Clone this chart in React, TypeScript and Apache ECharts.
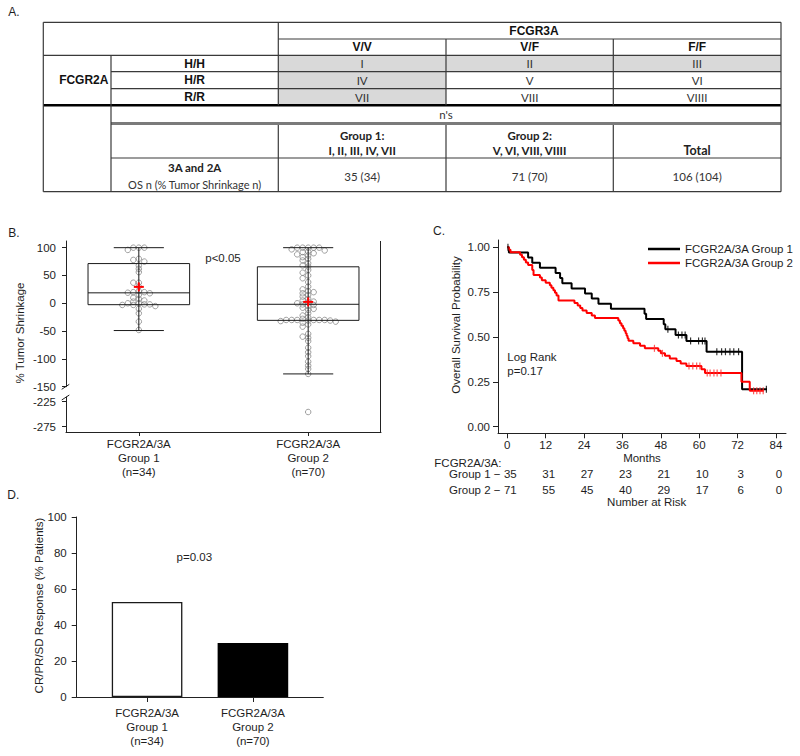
import React, { useEffect, useRef } from 'react';
import * as echarts from 'echarts';

// ===================== Panel A: genotype table =====================
const fcgr3aTitle = 'FCGR3A';
const fcgr2aTitle = 'FCGR2A';
const fcgr3aGenotypes = ['V/V', 'V/F', 'F/F'];
const fcgr2aGenotypes = ['H/H', 'H/R', 'R/R'];
const genotypeCells = [
  ['I', 'II', 'III'],
  ['IV', 'V', 'VI'],
  ['VII', 'VIII', 'VIIII'],
];
const isGroup1Cell = [
  [true, true, true],
  [true, false, false],
  [true, false, false],
];
const nsTitle = "n's";
const groupHeadLine1 = ['Group 1:', 'Group 2:', ''];
const groupHeadLine2 = ['I, II, III, IV, VII', 'V, VI, VIII, VIIII', 'Total'];
const countsRowTitle = '3A and 2A';
const countsRowSubtitle = 'OS n (% Tumor Shrinkage n)';
const countsValues = ['35 (34)', '71 (70)', '106 (104)'];
const panelLetters = ['A.', 'B.', 'C.', 'D.'];

// ===================== Panel B: tumor shrinkage =====================
const boxGroups = [1, 2];
const boxCategoryLabels = ['FCGR2A/3A\nGroup 1\n(n=34)', 'FCGR2A/3A\nGroup 2\n(n=70)'];
const boxMin = [-49, -127];
const boxQ1 = [-2.5, -30.7];
const boxMedian = [18.8, -1.8];
const boxQ3 = [71.4, 65.6];
const boxMax = [100, 100];
const boxMean = [29.5, 2.5];
const group1Shrinkage = [100, 100, 100, 96, 80, 78, 75, 68, 62, 56, 37, 37, 30, 22, 20, 20, 19, 18, 15, 10, 8, 5, 3, 0, 0, -2, -2, -3, -3, -5, -10, -18, -33, -48];
const group2Shrinkage = [100, 100, 100, 100, 100, 97, 95, 93, 92, 90, 88, 86, 83, 80, 77, 72, 68, 66, 60, 55, 50, 45, 38, 30, 25, 22, 20, 18, 15, 12, 8, 5, 3, 2, 0, -2, -3, -5, -8, -10, -12, -18, -22, -25, -28, -30, -30, -30, -30, -30, -30, -31, -31, -32, -33, -35, -38, -42, -55, -60, -62, -68, -80, -88, -95, -105, -112, -118, -127, -246];
const boxUpperTicks = [-150, -100, -50, 0, 50, 100];
const boxLowerTicks = [-275, -225];
const boxPValue = 'p<0.05';
const boxYTitle = '% Tumor Shrinkage';

// ===================== Panel C: Kaplan-Meier =====================
const kmNames = ['FCGR2A/3A Group 1', 'FCGR2A/3A Group 2'];
const km1Months = [0, 0.5, 6.5, 7.8, 10.2, 15.1, 16.5, 17.2, 20.1, 24.3, 26.4, 28.5, 32.4, 42.9, 43.4, 48.9, 49.4, 52.6, 56.0, 62.3, 73.4, 81.2];
const km1Surv = [1, 0.971, 0.943, 0.914, 0.886, 0.857, 0.829, 0.8, 0.771, 0.743, 0.714, 0.686, 0.657, 0.629, 0.6, 0.571, 0.543, 0.511, 0.478, 0.418, 0.209, 0.209];
const km2Months = [0, 0.5, 1.0, 4.0, 4.6, 5.2, 5.8, 6.5, 7.8, 8.2, 10.2, 10.8, 12.0, 13.3, 13.8, 14.4, 14.9, 15.4, 16.0, 21.0, 22.0, 22.8, 23.5, 24.8, 26.4, 27.4, 34.7, 35.2, 35.7, 36.2, 36.6, 37.0, 37.3, 37.6, 37.9, 39.4, 41.5, 43.0, 47.2, 48.0, 49.3, 50.8, 52.9, 54.2, 56.0, 60.7, 61.8, 73.2, 75.8, 80.2];
const km2Surv = [1, 0.986, 0.972, 0.958, 0.944, 0.93, 0.915, 0.901, 0.873, 0.845, 0.831, 0.817, 0.803, 0.789, 0.775, 0.761, 0.746, 0.732, 0.704, 0.69, 0.676, 0.662, 0.648, 0.634, 0.62, 0.606, 0.592, 0.577, 0.563, 0.549, 0.535, 0.521, 0.507, 0.493, 0.479, 0.465, 0.451, 0.437, 0.423, 0.409, 0.395, 0.38, 0.366, 0.352, 0.338, 0.32, 0.3, 0.25, 0.2, 0.2];
const km1Censored = [0.2, 50.2, 53.5, 54.6, 55.6, 57.3, 59.8, 61.0, 61.8, 65.5, 67.0, 68.2, 69.6, 70.8, 72.3, 81.0];
const km2Censored = [46.0, 48.5, 56.8, 58.0, 59.2, 60.2, 62.5, 63.4, 64.6, 65.6, 66.8, 77.0, 78.0, 79.0, 80.0];
const kmXTicks = [0, 12, 24, 36, 48, 60, 72, 84];
const kmYTicks = [0, 0.25, 0.5, 0.75, 1];
const kmXTitle = 'Months';
const kmYTitle = 'Overall Survival Probability';
const kmTestLines = ['Log Rank', 'p=0.17'];
const riskMonths = [0, 12, 24, 36, 48, 60, 72, 84];
const group1AtRisk = [35, 31, 27, 23, 21, 10, 3, 0];
const group2AtRisk = [71, 55, 45, 40, 29, 17, 6, 0];
const riskRowLabels = ['Group 1 \u2212', 'Group 2 \u2212'];
const riskHeader = 'FCGR2A/3A:';
const riskTitle = 'Number at Risk';

// ===================== Panel D: response =====================
const responseGroups = [1, 2];
const responseLabels = ['FCGR2A/3A\nGroup 1\n(n=34)', 'FCGR2A/3A\nGroup 2\n(n=70)'];
const responsePct = [52.8, 30];
const responsePValue = 'p=0.03';
const responseYTitle = 'CR/PR/SD Response (% Patients)';

// ===================== styling / layout =====================
const FONT = "'Liberation Sans', Arial, Helvetica, sans-serif";
const CAL = "Lato, 'Liberation Sans', sans-serif";
const TXT = '#1e1e1e';
const AX = '#222';
const FS = 11.5;

const BOX_X_MIN = 0.57;
const BOX_X_MAX = 2.43;
const BOX_GRID = { left: 66, top: 241, width: 315, height: 145.7 };
const BOX_LOW_GRID = { left: 66, top: 397, width: 315, height: 35 };
const BOX_UP_MIN = -150, BOX_UP_MAX = 112, BOX_LOW_MIN = -286, BOX_LOW_MAX = -216;

function swarmOffsets(values: number[], pxPerY: number, diam: number, dyThresh: number) {
  const placed: number[][] = [];
  return values.map((v) => {
    const y = v * pxPerY;
    for (let k = 0; k < 80; k++) {
      const c = (k % 2 === 1 ? -1 : 1) * Math.ceil(k / 2) * (diam / 2);
      const ok = placed.every(([px, py]) => Math.abs(py - y) >= dyThresh || Math.abs(px - c) >= diam - 0.01);
      if (ok) {
        placed.push([c, y]);
        return c;
      }
    }
    return 0;
  });
}

function survAt(months: number[], surv: number[], t: number) {
  let s = surv[0];
  for (let i = 0; i < months.length; i++) if (months[i] <= t) s = surv[i];
  return s;
}

function txt(text: string, x: number, y: number, o: any = {}) {
  return {
    type: 'text',
    x,
    y,
    z: 10,
    rotation: o.rotation || 0,
    style: {
      text,
      fill: o.color || TXT,
      fontSize: o.size || FS,
      fontFamily: o.family || FONT,
      fontWeight: o.weight || 'normal',
      align: o.align || 'center',
      verticalAlign: 'middle',
    },
  };
}
function seg(x1: number, y1: number, x2: number, y2: number, stroke = '#333', w = 1) {
  return { type: 'line', z: 5, shape: { x1, y1, x2, y2 }, style: { stroke, lineWidth: w } };
}

function tableGraphics() {
  const colX = [43.3, 111, 278.3, 446, 613.3, 781];
  const rowY = [22.3, 39, 55.3, 71.7, 88.7, 105.3, 123.5, 158, 191.7];
  const colC = (i: number) => (colX[i] + colX[i + 1]) / 2;
  const els: any[] = [];
  for (let r = 0; r < 3; r++)
    for (let c = 0; c < 3; c++)
      if (isGroup1Cell[r][c])
        els.push({
          type: 'rect',
          z: 1,
          shape: { x: colX[c + 2], y: rowY[r + 2], width: colX[c + 3] - colX[c + 2], height: rowY[r + 3] - rowY[r + 2] },
          style: { fill: '#d9d9d9' },
        });
  const L = '#3a3a3a';
  els.push(seg(colX[0], rowY[0], colX[5], rowY[0], L, 1.2));
  els.push(seg(colX[2], rowY[1], colX[5], rowY[1], L, 1.2));
  els.push(seg(colX[0], rowY[2], colX[5], rowY[2], L, 1.2));
  els.push(seg(colX[1], rowY[3], colX[5], rowY[3], L, 1.2));
  els.push(seg(colX[1], rowY[4], colX[5], rowY[4], L, 1.2));
  els.push(seg(colX[0], rowY[5], colX[5], rowY[5], '#000', 2.5));
  els.push(seg(colX[1], rowY[6], colX[5], rowY[6], '#7a7a7a', 3));
  els.push(seg(colX[1], rowY[7], colX[5], rowY[7], L, 1.2));
  els.push(seg(colX[0], rowY[8], colX[5], rowY[8], L, 1.2));
  els.push(seg(colX[0], rowY[0], colX[0], rowY[8], L, 1.2));
  els.push(seg(colX[5], rowY[0], colX[5], rowY[8], L, 1.2));
  els.push(seg(colX[1], rowY[2], colX[1], rowY[8], L, 1.2));
  els.push(seg(colX[2], rowY[0], colX[2], rowY[5], L, 1.2));
  els.push(seg(colX[3], rowY[1], colX[3], rowY[5], L, 1.2));
  els.push(seg(colX[4], rowY[1], colX[4], rowY[5], L, 1.2));
  for (let c = 2; c <= 4; c++) els.push(seg(colX[c], rowY[6] + 1.5, colX[c], rowY[8], L, 1.2));
  const B = { weight: 'bold', size: 12, color: '#111' };
  els.push(txt(fcgr3aTitle, 534, (rowY[0] + rowY[1]) / 2, B));
  fcgr3aGenotypes.forEach((g, i) => els.push(txt(g, colC(i + 2), (rowY[1] + rowY[2]) / 2, B)));
  els.push(txt(fcgr2aTitle, 83.8, (rowY[2] + rowY[5]) / 2, B));
  fcgr2aGenotypes.forEach((g, r) => els.push(txt(g, colC(1), (rowY[r + 2] + rowY[r + 3]) / 2, B)));
  genotypeCells.forEach((row, r) =>
    row.forEach((cell, c) => els.push(txt(cell, colC(c + 2), (rowY[r + 2] + rowY[r + 3]) / 2, { family: CAL, size: 11.5, color: '#333' })))
  );
  els.push(txt(nsTitle, (colX[1] + colX[5]) / 2, 114, { family: CAL, size: 11.5, color: '#333' }));
  groupHeadLine1.forEach((t, i) => t && els.push(txt(t, colC(i + 2), 135, { family: CAL, weight: 'bold', size: 11.5, color: '#222' })));
  groupHeadLine2.forEach((t, i) =>
    els.push(txt(t, colC(i + 2), 150.7, { family: CAL, weight: 'bold', size: i === 2 ? 12.5 : 11.5, color: '#222' }))
  );
  els.push(txt(countsRowTitle, colC(1), 167.7, { family: CAL, weight: 'bold', size: 11.5, color: '#222' }));
  els.push(txt(countsRowSubtitle, colC(1), 184, { family: CAL, size: 11, color: '#333' }));
  countsValues.forEach((v, i) => els.push(txt(v, colC(i + 2), 176, { family: CAL, size: 11.5, color: '#333' })));
  return els;
}

function buildOption() {
  const pxPerX = BOX_GRID.width / (BOX_X_MAX - BOX_X_MIN);
  const pxPerYUp = BOX_GRID.height / (BOX_UP_MAX - BOX_UP_MIN);
  const pxPerYLow = BOX_LOW_GRID.height / (BOX_LOW_MAX - BOX_LOW_MIN);
  const swarmUpper: number[][] = [];
  const swarmLower: number[][] = [];
  [group1Shrinkage, group2Shrinkage].forEach((vals, gi) => {
    const up = vals.filter((v) => v >= BOX_UP_MIN);
    const low = vals.filter((v) => v < BOX_UP_MIN);
    swarmOffsets(up, pxPerYUp, 5.5, 3).forEach((c, i) => swarmUpper.push([boxGroups[gi] + c / pxPerX, up[i]]));
    swarmOffsets(low, pxPerYLow, 5.5, 3).forEach((c, i) => swarmLower.push([boxGroups[gi] + c / pxPerX, low[i]]));
  });

  const circleStyle = { color: 'rgba(0,0,0,0)', borderColor: '#7a7a7a', borderWidth: 0.9 };
  const axLine = { show: true, onZero: false, lineStyle: { color: AX, width: 1 } };
  const lbl = { fontSize: FS, color: TXT, fontFamily: FONT };

  const graphic: any[] = [
    ...tableGraphics(),
    txt(panelLetters[0], 8.3, 12, { align: 'left', size: 12 }),
    txt(panelLetters[1], 8.3, 232.5, { align: 'left', size: 12 }),
    txt(panelLetters[2], 433, 231, { align: 'left', size: 12 }),
    txt(panelLetters[3], 7.3, 495, { align: 'left', size: 12 }),
    txt(boxPValue, 223, 258.3),
    txt(boxYTitle, 20, 333, { rotation: Math.PI / 2 }),
    seg(380.5, 241, 380.5, 432, AX, 1),
    seg(61.7, 389.3, 69.3, 384.3, AX, 1),
    seg(61.7, 400, 69.3, 395, AX, 1),
    txt(kmYTitle, 455.7, 325, { rotation: Math.PI / 2 }),
    txt(kmTestLines[0], 507.3, 357.3, { align: 'left' }),
    txt(kmTestLines[1], 507.3, 370.5, { align: 'left' }),
    txt(riskHeader, 434.3, 462.7, { align: 'left' }),
    txt(riskTitle, 646.7, 501.7),
    txt(responsePValue, 194.3, 557),
    txt(responseYTitle, 39.3, 605.5, { rotation: Math.PI / 2 }),
  ];

  return {
    animation: false,
    textStyle: { fontFamily: FONT },
    grid: [
      { ...BOX_GRID, outerBoundsMode: 'none' },
      { ...BOX_LOW_GRID, outerBoundsMode: 'none' },
      { left: 498, top: 240, width: 288, height: 193.3, outerBoundsMode: 'none' },
      { left: 498, top: 466.4, width: 288, height: 31.6, outerBoundsMode: 'none' },
      { left: 76.7, top: 517, width: 246.6, height: 180, outerBoundsMode: 'none' },
    ],
    xAxis: [
      { gridIndex: 0, type: 'value', min: BOX_X_MIN, max: BOX_X_MAX, show: false },
      {
        gridIndex: 1, type: 'value', min: BOX_X_MIN, max: BOX_X_MAX,
        axisLine: axLine,
        axisTick: { show: true, customValues: boxGroups, length: 4, lineStyle: { color: AX } },
        axisLabel: { ...lbl, customValues: boxGroups, margin: 5, lineHeight: 14, formatter: (v: number) => boxCategoryLabels[boxGroups.indexOf(v)] },
        splitLine: { show: false },
      },
      {
        gridIndex: 2, type: 'value', min: -2.91, max: 87.13,
        name: kmXTitle, nameLocation: 'middle', nameGap: 17, nameTextStyle: lbl,
        axisLine: axLine,
        axisTick: { show: true, customValues: kmXTicks, length: 5, lineStyle: { color: AX } },
        axisLabel: { ...lbl, customValues: kmXTicks, margin: 6 },
        splitLine: { show: false },
      },
      { gridIndex: 3, type: 'value', min: -2.91, max: 87.13, show: false },
      {
        gridIndex: 4, type: 'value', min: 0.335, max: 2.665,
        axisLine: axLine,
        axisTick: { show: true, customValues: responseGroups, length: 5, lineStyle: { color: AX } },
        axisLabel: { ...lbl, customValues: responseGroups, margin: 9, lineHeight: 14, formatter: (v: number) => responseLabels[responseGroups.indexOf(v)] },
        splitLine: { show: false },
      },
    ],
    yAxis: [
      {
        gridIndex: 0, type: 'value', min: BOX_UP_MIN, max: BOX_UP_MAX,
        axisLine: axLine,
        axisTick: { show: true, customValues: boxUpperTicks, length: 4, lineStyle: { color: AX } },
        axisLabel: { ...lbl, customValues: boxUpperTicks, margin: 10 },
        splitLine: { show: false },
      },
      {
        gridIndex: 1, type: 'value', min: BOX_LOW_MIN, max: BOX_LOW_MAX,
        axisLine: axLine,
        axisTick: { show: true, customValues: boxLowerTicks, length: 4, lineStyle: { color: AX } },
        axisLabel: { ...lbl, customValues: boxLowerTicks, margin: 10 },
        splitLine: { show: false },
      },
      {
        gridIndex: 2, type: 'value', min: -0.0368, max: 1.0407,
        axisLine: axLine,
        axisTick: { show: true, customValues: kmYTicks, length: 5, lineStyle: { color: AX } },
        axisLabel: { ...lbl, customValues: kmYTicks, margin: 8, formatter: (v: number) => v.toFixed(2) },
        splitLine: { show: false },
      },
      {
        gridIndex: 3, type: 'category', data: riskRowLabels, inverse: true,
        axisLine: { show: false }, axisTick: { show: false },
        axisLabel: { ...lbl, margin: -2.5 },
        splitLine: { show: false },
      },
      {
        gridIndex: 4, type: 'value', min: 0, max: 100, interval: 20,
        axisLine: axLine,
        axisTick: { show: true, length: 5, lineStyle: { color: AX } },
        axisLabel: { ...lbl, margin: 10 },
        splitLine: { show: false },
      },
    ],
    legend: {
      data: kmNames,
      orient: 'vertical',
      left: 648,
      top: 242.5,
      padding: 0,
      itemGap: 1,
      itemWidth: 32,
      itemHeight: 2.5,
      icon: 'rect',
      selectedMode: false,
      textStyle: { ...lbl, lineHeight: 13 },
    },
    series: [
      {
        type: 'scatter', name: 'swarm-upper', xAxisIndex: 0, yAxisIndex: 0, z: 3, silent: true,
        symbol: 'circle', symbolSize: 5.5, itemStyle: circleStyle, data: swarmUpper,
      },
      {
        type: 'scatter', name: 'swarm-lower', xAxisIndex: 1, yAxisIndex: 1, z: 3, silent: true,
        symbol: 'circle', symbolSize: 5.5, itemStyle: circleStyle, data: swarmLower,
      },
      {
        type: 'custom', name: 'box', xAxisIndex: 0, yAxisIndex: 0, z: 4, silent: true,
        encode: { x: 0, y: [1, 2, 3, 4, 5] },
        data: boxGroups.map((g, i) => [g, boxMin[i], boxQ1[i], boxMedian[i], boxQ3[i], boxMax[i], boxMean[i]]),
        renderItem: (_p: any, api: any) => {
          const x = api.value(0);
          const pMin = api.coord([x, api.value(1)]);
          const pQ1 = api.coord([x, api.value(2)]);
          const pMed = api.coord([x, api.value(3)]);
          const pQ3 = api.coord([x, api.value(4)]);
          const pMax = api.coord([x, api.value(5)]);
          const pMean = api.coord([x, api.value(6)]);
          const halfBox = api.size([0.3, 0])[0];
          const halfCap = api.size([0.148, 0])[0];
          const cx = pMin[0];
          const ln = (x1: number, y1: number, x2: number, y2: number, stroke = '#1a1a1a', w = 1) => ({
            type: 'line', shape: { x1, y1, x2, y2 }, style: { stroke, lineWidth: w },
          });
          return {
            type: 'group',
            children: [
              ln(cx, pMax[1], cx, pMin[1]),
              ln(cx - halfCap, pMax[1], cx + halfCap, pMax[1]),
              ln(cx - halfCap, pMin[1], cx + halfCap, pMin[1]),
              { type: 'rect', shape: { x: cx - halfBox, y: pQ3[1], width: 2 * halfBox, height: pQ1[1] - pQ3[1] }, style: { fill: 'none', stroke: '#1a1a1a', lineWidth: 1 } },
              ln(cx - halfBox, pMed[1], cx + halfBox, pMed[1]),
              ln(cx - 5, pMean[1], cx + 5, pMean[1], '#ff0000', 2),
              ln(cx, pMean[1] - 4.5, cx, pMean[1] + 4.5, '#ff0000', 2),
            ],
          };
        },
      },
      {
        type: 'line', name: kmNames[0], xAxisIndex: 2, yAxisIndex: 2, step: 'end', symbol: 'none', z: 3,
        data: km1Months.map((m, i) => [m, km1Surv[i]]),
        lineStyle: { color: '#000', width: 2 }, itemStyle: { color: '#000' },
      },
      {
        type: 'line', name: kmNames[1], xAxisIndex: 2, yAxisIndex: 2, step: 'end', symbol: 'none', z: 4,
        data: km2Months.map((m, i) => [m, km2Surv[i]]),
        lineStyle: { color: '#ff0000', width: 2 }, itemStyle: { color: '#ff0000' },
      },
      {
        type: 'scatter', name: 'censor-1', xAxisIndex: 2, yAxisIndex: 2, z: 5, silent: true,
        symbol: 'rect', symbolSize: [1.2, 7], itemStyle: { color: '#000' },
        data: km1Censored.map((t) => [t, survAt(km1Months, km1Surv, t)]),
      },
      {
        type: 'scatter', name: 'censor-2', xAxisIndex: 2, yAxisIndex: 2, z: 5, silent: true,
        symbol: 'rect', symbolSize: [1.2, 7], itemStyle: { color: '#ff3030' },
        data: km2Censored.map((t) => [t, survAt(km2Months, km2Surv, t)]),
      },
      {
        type: 'scatter', name: 'risk', xAxisIndex: 3, yAxisIndex: 3, silent: true,
        symbolSize: 1, itemStyle: { color: '#ffffff', opacity: 0 },
        encode: { x: 0, y: 1 },
        label: {
          show: true, position: ['50%', '50%'], align: 'center', verticalAlign: 'middle', offset: [3, 0],
          fontSize: FS, fontFamily: FONT, color: '#1e1e1e', opacity: 1,
          formatter: (p: any) => String(p.value[2]),
        },
        data: [
          ...riskMonths.map((m, i) => [m, 0, group1AtRisk[i]]),
          ...riskMonths.map((m, i) => [m, 1, group2AtRisk[i]]),
        ],
      },
      {
        type: 'bar', name: 'response', xAxisIndex: 4, yAxisIndex: 4, barWidth: 70.6, silent: true,
        data: responseGroups.map((g, i) => ({
          value: [g, responsePct[i]],
          itemStyle: i === 0 ? { color: '#ffffff', borderColor: '#1a1a1a', borderWidth: 1.3 } : { color: '#000000' },
        })),
      },
    ],
    graphic: { elements: graphic },
  };
}

export default function App() {
  const ref = useRef<HTMLDivElement>(null);
  useEffect(() => {
    document.body.style.margin = '0';
    const chart = echarts.init(ref.current as HTMLDivElement, null, { renderer: 'svg' });
    chart.setOption(buildOption() as any);
    return () => chart.dispose();
  }, []);
  return <div ref={ref} style={{ width: 800, height: 756 }} />;
}
